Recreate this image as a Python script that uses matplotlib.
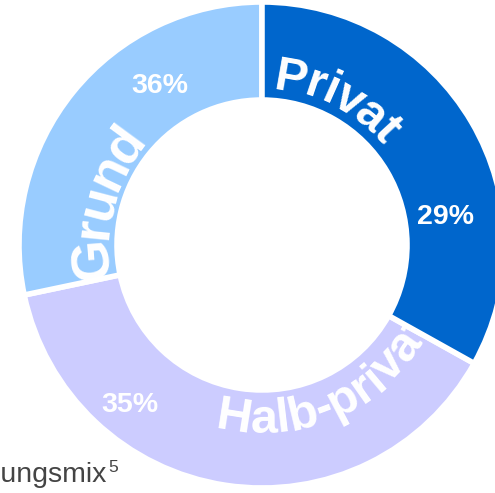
import numpy as np
import matplotlib
matplotlib.use("Agg")
import matplotlib.pyplot as plt
from matplotlib.font_manager import FontProperties

# ---- data ----
categories = ["Privat", "Halb-privat", "Grund"]
arc_shares = [33.1, 38.6, 28.3]          # share of ring as drawn
pct_labels = ["29%", "35%", "36%"]
footer_main = "Versicherungsmix"
footer_sup = "5"

# ---- style ----
colors = ["#0066CC", "#CCCCFF", "#99CCFF"]
W, H = 495, 493
CX, CY = 262, 245                       # ring centre in pixels from top-left
R_OUT, R_IN = 243, 145
# curved label: (baseline radius, start angle, font size, clockwise, tracking, zorder)
curve_style = {
    "Privat": (156, 85.5, 35, True, 1.02, 4),
    "Halb-privat": (188, -104.5, 35, False, 0.92, 1.5),
    "Grund": (155, 191.5, 39, True, 1.0, 4),
}
wedge_z = [2, 1, 1]
# percentage label polar positions (angle deg, radius px)
pct_pos = [(8.7, 186), (-129.5, 207), (122.7, 189)]

fig = plt.figure(figsize=(W / 100, H / 100), dpi=100)
ax = fig.add_axes([0, 0, 1, 1])
wedges, _ = ax.pie(arc_shares, colors=colors, startangle=90, counterclock=False,
                   radius=R_OUT, center=(0, 0),
                   wedgeprops=dict(width=R_OUT - R_IN, edgecolor="white", linewidth=4))
for w, z in zip(wedges, wedge_z):
    w.set_zorder(z)
ax.set_xlim(-CX, W - CX)
ax.set_ylim(-(H - CY), CY)
ax.set_aspect("equal")
ax.axis("off")

renderer = fig.canvas.get_renderer()


def text_w(s, fp):
    if not s:
        return 0.0
    w, h, d = renderer.get_text_width_height_descent(s, fp, ismath=False)
    return w


def curved(text, r, start_deg, size, clockwise, track, z):
    fp = FontProperties(family="Liberation Sans", size=size, weight="bold")
    em = size * 100 / 72
    r_mid = r + 0.36 * em if clockwise else r - 0.36 * em
    for i, ch in enumerate(text):
        if i == 0:
            s = text_w(ch, fp) / 2
        else:
            s = (text_w(text[:i], fp) + text_w(text[:i + 1], fp)) / 2
        s *= track
        dth = np.degrees(s / r_mid)
        th = start_deg - dth if clockwise else start_deg + dth
        t = np.radians(th)
        rot = th - 90 if clockwise else th + 90
        ax.text(r * np.cos(t), r * np.sin(t), ch, fontproperties=fp,
                color="white", rotation=rot, rotation_mode="anchor",
                ha="center", va="baseline", zorder=z)


for cat in categories:
    curved(cat, *curve_style[cat])

for lab, (ang, rr) in zip(pct_labels, pct_pos):
    t = np.radians(ang)
    ax.text(rr * np.cos(t), rr * np.sin(t), lab, color="white",
            fontsize=20.5, fontweight="bold", family="Liberation Sans",
            ha="center", va="center", zorder=5)

ax.text(107 - CX, CY - 482, footer_main, color="#444444", fontsize=20.5,
        family="Liberation Sans", ha="right", va="baseline")
ax.text(108 - CX, CY - 472, footer_sup, color="#444444", fontsize=12.5,
        family="Liberation Sans", ha="left", va="baseline")

fig.savefig("out.png", dpi=100)
